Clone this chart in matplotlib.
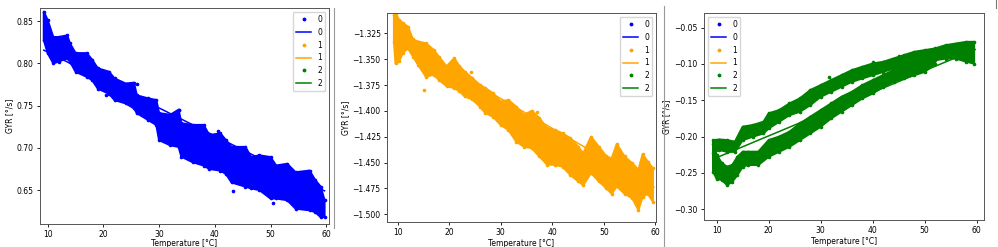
import matplotlib
matplotlib.use("Agg")
import matplotlib.pyplot as plt
import numpy as np

# ---------------- data ----------------
# Panel 0 (blue): temperature grid with lower / upper edge of the dense point cloud
t0 = [9.3, 10, 11, 12, 13.5, 14, 15, 17, 18, 19, 21, 22, 24, 25.5, 26, 28, 29.5, 30,
      32, 33.5, 34, 36, 38, 39, 41, 42, 43, 45.5, 46.5, 48, 50, 51, 53, 54.5, 57, 58, 59, 59.7]
hi0 = [0.861, 0.851, 0.831, 0.831, 0.833, 0.8235, 0.812, 0.812, 0.804, 0.794, 0.790, 0.782,
       0.776, 0.777, 0.762, 0.7585, 0.7565, 0.741, 0.739, 0.745, 0.729, 0.727, 0.727, 0.715,
       0.717, 0.709, 0.701, 0.701, 0.689, 0.691, 0.689, 0.679, 0.681, 0.671, 0.673, 0.662,
       0.654, 0.638]
lo0 = [0.8275, 0.812, 0.800, 0.802, 0.806, 0.802, 0.790, 0.784, 0.780, 0.770, 0.764, 0.7565,
       0.7525, 0.7467, 0.741, 0.733, 0.727, 0.709, 0.703, 0.701, 0.6895, 0.683, 0.679, 0.675,
       0.673, 0.669, 0.659, 0.654, 0.652, 0.650, 0.640, 0.640, 0.638, 0.628, 0.626, 0.624,
       0.618, 0.618]
out_t0 = [20.5, 40.5, 43.2, 50.5, 26.0, 33.6]
out_v0 = [0.762, 0.720, 0.649, 0.635, 0.776, 0.745]
fit_t0 = [9.3, 59.7]
fit_v0 = [0.8155, 0.6490]

# Panel 1 (orange)
t1 = [9.3, 9.6, 10.3, 11, 12, 13, 14, 15.5, 17, 18, 19.5, 21, 22, 23, 24.5, 26, 27, 28.5,
      30, 31.5, 33, 34.5, 36, 37.5, 39, 40.5, 42, 43.5, 45, 46, 47.5, 49, 50.5, 51.5, 52.5,
      54, 55.5, 56.7, 57.5, 58.5, 59.5]
hi1 = [-1.307, -1.306, -1.312, -1.315, -1.3186, -1.331, -1.333, -1.3347, -1.341, -1.3476,
       -1.357, -1.349, -1.357, -1.362, -1.3685, -1.375, -1.378, -1.383, -1.391, -1.3895,
       -1.396, -1.404, -1.400, -1.407, -1.417, -1.4185, -1.4217, -1.4265, -1.4346, -1.441,
       -1.425, -1.4346, -1.444, -1.446, -1.432, -1.444, -1.4507, -1.457, -1.442, -1.449,
       -1.4555]
lo1 = [-1.333, -1.354, -1.352, -1.344, -1.3395, -1.3475, -1.3556, -1.367, -1.365, -1.370,
       -1.376, -1.378, -1.381, -1.386, -1.389, -1.396, -1.402, -1.4056, -1.4136, -1.4185,
       -1.4297, -1.4346, -1.436, -1.444, -1.452, -1.452, -1.454, -1.462, -1.468, -1.4717,
       -1.460, -1.468, -1.475, -1.480, -1.473, -1.480, -1.4845, -1.4958, -1.483, -1.480,
       -1.4877]
out_t1 = [15.2, 24.2, 37.0, 31.0]
out_v1 = [-1.3798, -1.362, -1.401, -1.392]
fit_t1 = [9.3, 59.7]
fit_v1 = [-1.3285, -1.4737]

# Panel 2 (green): upper branch and lower branch of the hysteresis loop
t2u = [9.3, 10.5, 12, 13.5, 15, 17, 19, 20, 22, 24, 26, 28, 30, 32, 34, 36, 38, 40, 42,
       44, 46, 48, 50, 52, 54, 56, 58, 59.5]
hi2u = [-0.205, -0.204, -0.2048, -0.207, -0.1864, -0.184, -0.1796, -0.168, -0.1636, -0.1544,
        -0.1475, -0.136, -0.1292, -0.1223, -0.1155, -0.1086, -0.104, -0.0995, -0.0972,
        -0.0926, -0.088, -0.0834, -0.0811, -0.0788, -0.0743, -0.072, -0.0697, -0.0697]
lo2u = [-0.222, -0.2185, -0.2208, -0.221, -0.2048, -0.200, -0.1956, -0.1887, -0.1796,
        -0.1704, -0.1658, -0.1567, -0.1452, -0.1384, -0.1315, -0.1246, -0.120, -0.1155,
        -0.111, -0.1063, -0.104, -0.0995, -0.0972, -0.095, -0.0926, -0.0926, -0.097, -0.0995]
t2l = [9.3, 10, 11, 12, 13, 14, 15, 16, 18, 20, 22, 24, 26, 28, 30, 32, 34, 36, 38, 40,
       42, 44, 46, 48, 50, 52]
hi2l = [-0.21, -0.225, -0.2368, -0.2414, -0.239, -0.2277, -0.2208, -0.2208, -0.2208,
        -0.2048, -0.200, -0.1933, -0.1819, -0.1727, -0.1636, -0.1544, -0.1452, -0.1384,
        -0.1292, -0.1223, -0.1155, -0.1086, -0.104, -0.0995, -0.095, -0.090]
lo2l = [-0.248, -0.258, -0.2597, -0.2666, -0.262, -0.2528, -0.2414, -0.239, -0.239,
        -0.2277, -0.2208, -0.214, -0.2048, -0.1956, -0.1864, -0.175, -0.1658, -0.1567,
        -0.1475, -0.1407, -0.1315, -0.1246, -0.120, -0.1155, -0.111, -0.100]
out_t2 = [31.5, 45.0, 40.0, 26.5]
out_v2 = [-0.118, -0.089, -0.097, -0.188]
fit_t2 = [10.1, 59.7]
fit_v2 = [-0.2286, -0.0803]

labels = ["0", "1", "2"]
colors = ["blue", "orange", "green"]

# ---------------- figure ----------------
W, H = 998, 247
fig = plt.figure(figsize=(W / 100, H / 100), dpi=100)
FS = 5.5


def add_ax(left, right, top, bottom):
    return fig.add_axes([left / W, (H - bottom) / H, (right - left) / W, (bottom - top) / H])


axes = [add_ax(40, 329, 8, 224), add_ax(387, 656, 13, 222), add_ax(704, 984, 13, 220)]
xlims = [(8.62, 60.5), (7.95, 60.1), (7.56, 61.4)]
ylims = [(0.6098, 0.8654), (-1.5074, -1.3054), (-0.3147, -0.030)]
ystep = [0.05, 0.025, 0.05]
leg_loc = ["upper right", "upper right", "upper left"]
xlabpad = [0.0, 1.5, 1.5]
xtickpad = [1.5, 2.0, 2.0]


def band(ax, t, lo, hi, c):
    xs = list(t) + list(t)[::-1]
    ys = list(lo) + list(hi)[::-1]
    ax.fill(xs, ys, facecolor=c, edgecolor=c, lw=1.5, joinstyle="round")
    ax.plot(t, lo, ".", color=c, ms=3.2)
    ax.plot(t, hi, ".", color=c, ms=3.2)


band(axes[0], t0, lo0, hi0, colors[0])
axes[0].plot(out_t0, out_v0, ".", color=colors[0], ms=3.2)
band(axes[1], t1, lo1, hi1, colors[1])
axes[1].plot(out_t1, out_v1, ".", color=colors[1], ms=3.2)
band(axes[2], t2u, lo2u, hi2u, colors[2])
band(axes[2], t2l, lo2l, hi2l, colors[2])
axes[2].plot(out_t2, out_v2, ".", color=colors[2], ms=3.2)

fits = [(fit_t0, fit_v0), (fit_t1, fit_v1), (fit_t2, fit_v2)]

for i, ax in enumerate(axes):
    handles = []
    for j in range(3):
        if j == i:
            p, = ax.plot([], [], ".", color=colors[j], ms=3.5, label=labels[j])
            l, = ax.plot(fits[j][0], fits[j][1], "-", color=colors[j], lw=1.1, label=labels[j])
        else:
            p, = ax.plot([], [], ".", color=colors[j], ms=3.5, label=labels[j])
            l, = ax.plot([], [], "-", color=colors[j], lw=1.1, label=labels[j])
        handles += [p, l]
    ax.legend(handles=handles, loc=leg_loc[i], fontsize=FS, handlelength=2.0,
              borderpad=0.4, labelspacing=0.5, handletextpad=0.8, framealpha=0.8)
    ax.set_xlim(*xlims[i])
    ax.set_ylim(*ylims[i])
    ax.set_xticks([10, 20, 30, 40, 50, 60])
    lo, hi = ylims[i]
    st = ystep[i]
    ticks = np.arange(np.ceil(lo / st - 1e-6) * st, hi, st)
    ax.set_yticks(ticks)
    ax.tick_params(labelsize=FS, length=2.5, width=0.6, pad=2)
    ax.tick_params(axis="x", pad=xtickpad[i])
    ax.set_xlabel("Temperature [°C]", fontsize=FS, labelpad=xlabpad[i])
    ax.set_ylabel("GYR [°/s]", fontsize=FS, labelpad=2)
    for s in ax.spines.values():
        s.set_linewidth(0.7)
        s.set_color("#555555")

# separators between the three stitched images
fig.add_artist(plt.Line2D([333.5 / W, 333.5 / W], [(H - 228) / H, (H - 8) / H],
                          color="#999999", lw=0.8))
fig.add_artist(plt.Line2D([663.5 / W, 663.5 / W], [0, (H - 6) / H],
                          color="#999999", lw=0.8))
fig.add_artist(plt.Line2D([995.5 / W, 995.5 / W], [(H - 8) / H, 1],
                          color="#777777", lw=0.8))

fig.savefig("out.png", dpi=100)
